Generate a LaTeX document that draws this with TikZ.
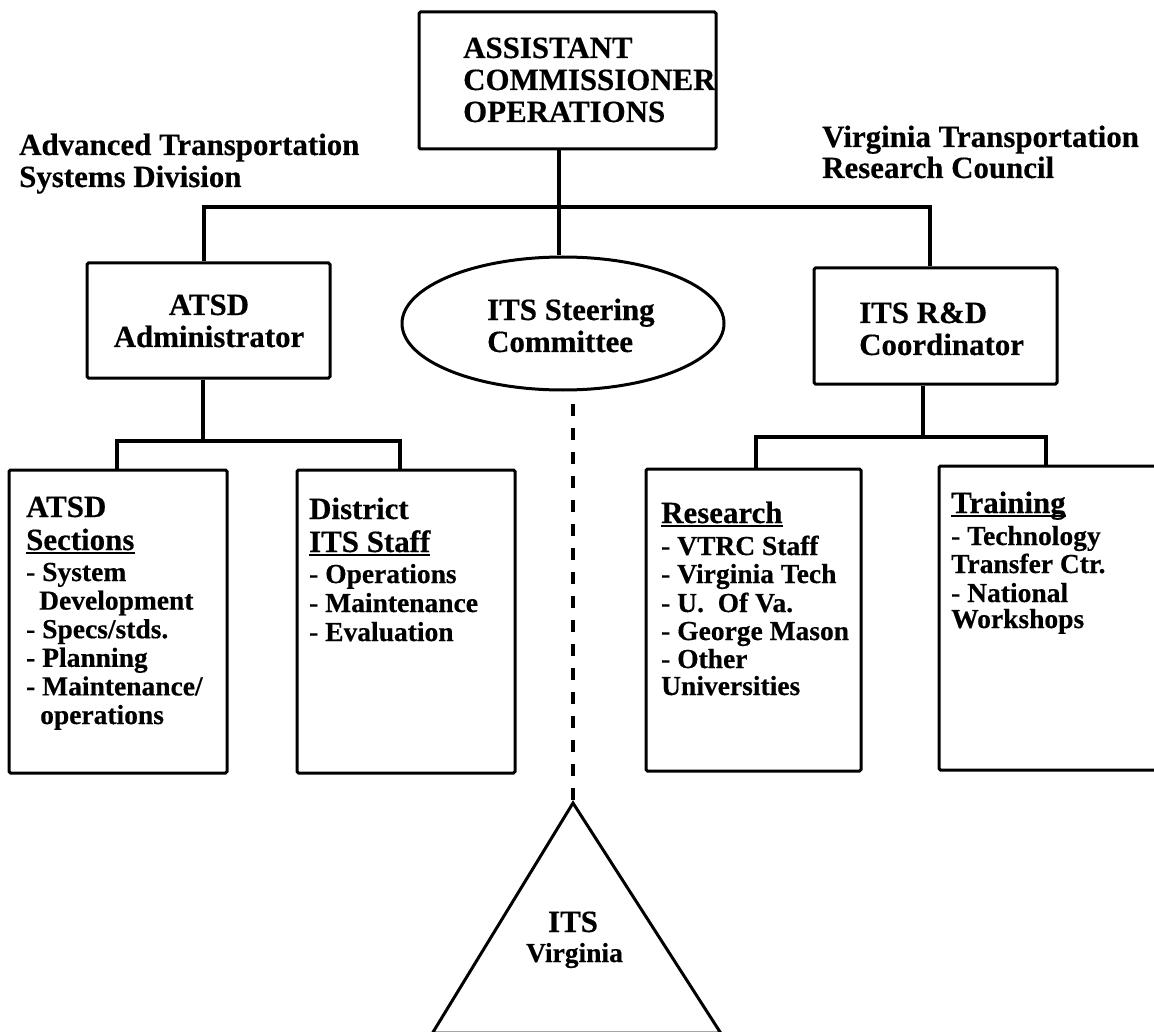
\documentclass[tikz,border=0pt]{standalone}
\usepackage{fontspec}
\setmainfont{Liberation Serif}[BoldFeatures={FakeBold=0.4}]
\usetikzlibrary{shapes.geometric,calc}
\begin{document}
\begin{tikzpicture}[x=1pt,y=-1pt,
  hd/.style={font=\fontsize{30.9}{32}\selectfont\bfseries, inner sep=0pt, anchor=base west},
  li/.style={font=\fontsize{27.5}{29}\selectfont\bfseries, inner sep=0pt, anchor=base west},
  box/.style={draw, line width=3pt, rounded corners=1.5pt, inner sep=0pt},
  conn/.style={line width=3.3pt},
  dconn/.style={line width=3.6pt, dash pattern=on 12pt off 12pt, dash phase=12pt},
  ul/.style={line width=2.2pt}]
\fill[white] (0,0) rectangle (1154,1032);
\useasboundingbox (0,0) rectangle (1154,1032);

% boxes
\node[box, minimum width=297pt, minimum height=137pt] (top) at (567.5,80.5) {};
\node[box, minimum width=243pt, minimum height=115pt] (admin) at (208.5,320.5) {};
\node[draw, ellipse, line width=3pt, minimum width=322pt, minimum height=133pt, inner sep=0pt] (steer) at (563,323.5) {};
\node[box, minimum width=243pt, minimum height=116pt] (rd) at (935.5,326) {};
\node[box, minimum width=218pt, minimum height=303pt] (sec) at (118,621.5) {};
\node[box, minimum width=218pt, minimum height=303pt] (dist) at (406,621.5) {};
\node[box, minimum width=215pt, minimum height=302pt] (res) at (753.5,620) {};
\node[box, minimum width=240pt, minimum height=304pt] (train) at (1059,618) {};

% triangle
\coordinate (apex) at (573,803);
\draw[line width=3pt, line join=miter] (apex) -- (432.5,1033) -- (720.7,1033) -- cycle;

% junctions
\coordinate (j1) at (559,207);
\coordinate (j2) at (203,441);
\coordinate (j3) at (923,437);

% connectors
\draw[conn] ([xshift=-8.5pt]top.south) -- ([xshift=-4pt]steer.north);
\draw[conn] ([xshift=-4.5pt]admin.north) |- (j1) -| ([xshift=-5.5pt]rd.north);
\draw[conn] ([xshift=-5.5pt]admin.south) -- (j2);
\draw[conn] ([xshift=-1pt]sec.north) |- (j2) -| ([xshift=-6pt]dist.north);
\draw[conn] ([xshift=-12.5pt]rd.south) -- (j3);
\draw[conn] ([xshift=2.5pt]res.north) |- (j3) -| ([xshift=-13pt]train.north);
\draw[dconn] ([xshift=10pt]steer.south) -- (apex);

% top box text
\node[hd] (t1) at (463,58) {ASSISTANT};
\node[hd] (t2) at (463,90) {COMMISSIONER};
\node[hd] (t3) at (463,122) {OPERATIONS};

% side labels
\node[hd] (l1) at (19,155) {Advanced Transportation};
\node[hd] (l2) at (19,187) {Systems Division};
\node[hd] (r1) at (822,147) {Virginia Transportation};
\node[hd] (r2) at (822,178) {Research Council};

% admin
\node[hd, anchor=base] (a1) at (209,315) {ATSD};
\node[hd, anchor=base] (a2) at (209,347) {Administrator};

% steering
\node[hd] (e1) at (487,320) {ITS Steering};
\node[hd] (e2) at (487,352) {Committee};

% R&D
\node[hd] (c1) at (859,323) {ITS R\&D};
\node[hd] (c2) at (859,355) {Coordinator};

% ATSD sections
\node[hd] (s1) at (26,517) {ATSD};
\node[hd] (s2) at (26,550) {Sections};
\draw[ul] ([yshift=-3.2pt]s2.base west) -- ([yshift=-3.2pt]s2.base east);
\node[li] (s3) at (26,581) {- System};
\node[li] (s4) at (39,609.6) {Development};
\node[li] (s5) at (26,638.2) {- Specs/stds.};
\node[li] (s6) at (26,666.8) {- Planning};
\node[li] (s7) at (26,695.4) {- Maintenance/};
\node[li] (s8) at (40,724) {operations};

% District
\node[hd] (d1) at (309,519) {District};
\node[hd] (d2) at (309,552) {ITS Staff};
\draw[ul] ([yshift=-3.2pt]d2.base west) -- ([yshift=-3.2pt]d2.base east);
\node[li] (d3) at (309,583) {- Operations};
\node[li] (d4) at (309,612) {- Maintenance};
\node[li] (d5) at (309,641) {- Evaluation};

% Research
\node[hd] (q1) at (661,523) {Research};
\draw[ul] ([yshift=-3.2pt]q1.base west) -- ([yshift=-3.2pt]q1.base east);
\node[li] (q2) at (661,555) {- VTRC Staff};
\node[li] (q3) at (661,583) {- Virginia Tech};
\node[li] (q4) at (661,612) {- U.\ \ Of Va.};
\node[li] (q5) at (661,640) {- George Mason};
\node[li] (q6) at (661,668) {- Other};
\node[li] (q7) at (661,695) {Universities};

% Training
\node[hd] (g1) at (951,513) {Training};
\draw[ul] ([yshift=-3.2pt]g1.base west) -- ([yshift=-3.2pt]g1.base east);
\node[li] (g2) at (951,545) {- Technology};
\node[li] (g3) at (951,573) {Transfer Ctr.};
\node[li] (g4) at (951,602) {- National};
\node[li] (g5) at (951,628) {Workshops};

% triangle text
\node[hd, anchor=base] (v1) at (573,932) {ITS};
\node[li, anchor=base] (v2) at (574.5,962) {Virginia};
\end{tikzpicture}
\end{document}
